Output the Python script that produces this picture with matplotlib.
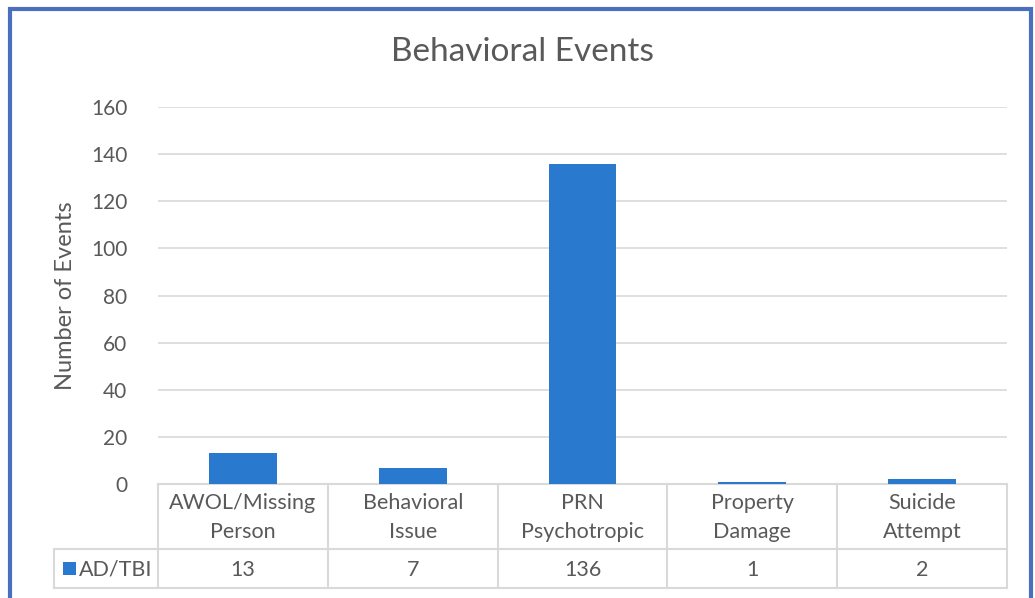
import matplotlib.pyplot as plt
from matplotlib.patches import Rectangle
import matplotlib.transforms as mtransforms

categories = ["AWOL/Missing\nPerson", "Behavioral\nIssue", "PRN\nPsychotropic", "Property\nDamage", "Suicide\nAttempt"]
series_name = "AD/TBI"
values = [13, 7, 136, 1, 2]
yticks = [0, 20, 40, 60, 80, 100, 120, 140, 160]

W, H = 1035, 598
bar_color = "#2979CE"
text_color = "#595959"
grid_color = "#D9D9D9"

plt.rcParams['font.family'] = ['Lato', 'DejaVu Sans']

fig = plt.figure(figsize=(W / 100, H / 100), dpi=100)

# outer chart border (bottom runs off the picture)
fig.patches.append(Rectangle((9.5 / W, -0.05), (1031 - 9.5) / W, 1.05 - 8.5 / H,
                             transform=fig.transFigure, fill=False,
                             edgecolor="#4A6FBF", linewidth=3))

x0, x1, y_top, y_bot = 158, 1007, 107, 484
ax = fig.add_axes([x0 / W, 1 - y_bot / H, (x1 - x0) / W, (y_bot - y_top) / H])

xs = range(len(categories))
ax.bar(xs, values, width=0.4, color=bar_color, zorder=3)
ax.set_xlim(-0.5, len(categories) - 0.5)
ax.set_ylim(0, 160)
ax.set_yticks(yticks)
ax.yaxis.grid(True, color=grid_color, linewidth=1.2, zorder=0)
ax.tick_params(axis='y', length=0, pad=22, labelsize=15, labelcolor=text_color)
ax.set_xticks([])
for s in ax.spines.values():
    s.set_visible(False)

ax.set_ylabel("Number of Events", fontsize=17, color=text_color, labelpad=11)
fig.text(522 / W, 1 - 52 / H, "Behavioral Events", ha='center', va='center',
         fontsize=24, color=text_color)

# data table under the axis
px = mtransforms.blended_transform_factory(ax.transData, fig.transFigure)
fy = lambda p: 1 - p / H
row1, row2 = 549, 588
leg_left = -0.5 - (x0 - 54) / ((x1 - x0) / len(categories))
lw = 1.5
kw = dict(color=grid_color, linewidth=lw, transform=px, clip_on=False)
n = len(categories)
ax.plot([-0.5, n - 0.5], [fy(y_bot), fy(y_bot)], **kw)
ax.plot([leg_left, n - 0.5], [fy(row1), fy(row1)], **kw)
ax.plot([leg_left, n - 0.5], [fy(row2), fy(row2)], **kw)
ax.plot([leg_left, leg_left], [fy(row1), fy(row2)], **kw)
for i in range(n + 1):
    ax.plot([i - 0.5, i - 0.5], [fy(y_bot), fy(row2)], **kw)

for i, (c, v) in enumerate(zip(categories, values)):
    ax.text(i, fy((y_bot + row1) / 2 + 1), c, transform=px, ha='center', va='center',
            fontsize=15.5, color=text_color, linespacing=1.6)
    ax.text(i, fy((row1 + row2) / 2 + 1), str(v), transform=px, ha='center', va='center',
            fontsize=15.5, color=text_color)

fig.patches.append(Rectangle((63 / W, fy(575)), 13 / W, 13 / H, transform=fig.transFigure,
                             facecolor=bar_color, edgecolor='none'))
fig.text(79 / W, fy((row1 + row2) / 2 + 1), series_name, ha='left', va='center',
         fontsize=15.5, color=text_color)

fig.savefig("out.png", dpi=100)
